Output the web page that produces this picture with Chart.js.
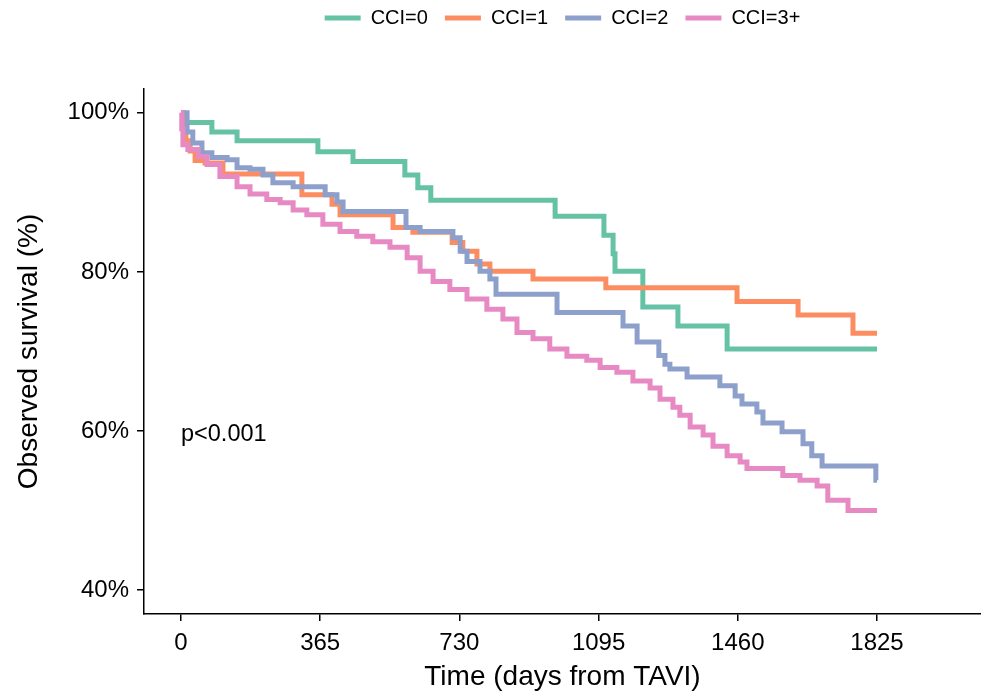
<!DOCTYPE html>
<html>
<head>
<meta charset="utf-8">
<script src="https://cdn.jsdelivr.net/npm/chart.js@4.4.1/dist/chart.umd.min.js"></script>
<style>
  html, body { margin: 0; padding: 0; background: #fff; }
  canvas { display: block; }
</style>
</head>
<body>
<canvas id="survChart" width="981" height="700"></canvas>
<script>
// Kaplan-Meier curves (days from TAVI, survival %)
const groups = ['CCI=0', 'CCI=1', 'CCI=2', 'CCI=3+'];
const colors = ['#66C2A5', '#FC8D62', '#8DA0CB', '#E78AC3'];

const days0 = [0, 5, 81, 147, 359, 451, 587, 621, 655, 981, 1109, 1133, 1138, 1211, 1303, 1432, 1825];
const surv0 = [100, 98.8, 97.6, 96.5, 95.1, 93.9, 92.2, 90.6, 89.0, 87.0, 84.6, 82.3, 80.1, 75.6, 73.2, 70.3, 70.3];

const days1 = [0, 5, 13, 24, 37, 63, 110, 317, 396, 417, 556, 608, 711, 739, 776, 810, 923, 1114, 1458, 1618, 1762, 1825];
const surv1 = [100, 98.0, 96.5, 95.2, 94.0, 93.7, 92.3, 89.7, 88.5, 87.2, 85.6, 85.0, 83.7, 82.6, 81.0, 80.1, 79.1, 78.0, 76.3, 74.6, 72.3, 72.3];

const days2 = [0, 16, 31, 55, 81, 121, 147, 181, 215, 241, 294, 378, 409, 425, 590, 627, 713, 732, 750, 784,
  810, 826, 986, 1159, 1196, 1253, 1269, 1282, 1327, 1413, 1453, 1471, 1510, 1526, 1576, 1631, 1654, 1681, 1822, 1825];
const surv2 = [100, 97.6, 96.2, 95.0, 94.4, 94.1, 93.1, 92.9, 92.2, 91.2, 90.7, 89.7, 88.8, 87.6, 85.6, 85.1, 84.3, 82.6, 81.3, 80.1,
  79.1, 77.2, 74.9, 73.2, 71.2, 69.5, 68.4, 67.8, 66.8, 65.7, 64.4, 63.4, 62.4, 61.0, 59.9, 58.4, 56.9, 55.6, 53.8, 53.8];

const days3 = [0, 2, 5, 18, 45, 68, 102, 147, 181, 225, 260, 294, 330, 372, 417, 461, 503, 548, 593, 627,
  661, 705, 750, 802, 844, 881, 923, 967, 1012, 1064, 1099, 1143, 1185, 1230, 1256, 1290, 1308, 1335, 1369, 1395,
  1432, 1466, 1484, 1578, 1623, 1668, 1696, 1749, 1825];
const surv3 = [100, 98.0, 96.0, 95.4, 94.5, 93.5, 92.0, 90.7, 89.8, 89.1, 88.7, 87.8, 87.2, 86.0, 85.1, 84.5, 83.8, 83.1, 81.8, 80.1,
  78.8, 77.8, 76.6, 75.3, 74.1, 72.4, 71.6, 70.3, 69.4, 68.9, 68.0, 67.4, 66.3, 65.4, 64.0, 63.0, 62.0, 60.5, 59.5, 58.1,
  56.9, 56.1, 55.3, 54.4, 53.8, 53.1, 51.3, 50.0, 50.0];

const xTicks = [0, 365, 730, 1095, 1460, 1825];
const yTicks = [40, 60, 80, 100];
const pText = 'p<0.001';
const pPos = { x: 0, y: 59.6 };

const allDays = [days0, days1, days2, days3];
const allSurv = [surv0, surv1, surv2, surv3];

const FONT = "'Liberation Sans', Arial, sans-serif";

const datasets = groups.map((g, i) => ({
  label: g,
  data: allDays[i].map((d, k) => ({ x: d, y: allSurv[i][k] })),
  borderColor: colors[i],
  backgroundColor: colors[i],
  borderWidth: 5,
  borderJoinStyle: 'miter',
  pointRadius: 0,
  stepped: 'before',        // hold the value, then drop at the next event
  fill: false,
  order: groups.length - i   // later groups drawn on top, like ggplot
}));

// make the legend box tall enough to push the plot panel down
const legendHeight = {
  id: 'legendHeight',
  beforeInit(chart) {
    const origFit = chart.legend.fit;
    chart.legend.fit = function () {
      origFit.call(this);
      this.height = 98;
    };
  }
};

const pValueLabel = {
  id: 'pValueLabel',
  afterDatasetsDraw(chart) {
    const { ctx, scales } = chart;
    ctx.save();
    ctx.font = '23.5px ' + FONT;
    ctx.fillStyle = '#000';
    ctx.textAlign = 'left';
    ctx.textBaseline = 'middle';
    ctx.fillText(pText, scales.x.getPixelForValue(pPos.x), scales.y.getPixelForValue(pPos.y));
    ctx.restore();
  }
};

new Chart(document.getElementById('survChart').getContext('2d'), {
  type: 'line',
  data: { datasets },
  options: {
    responsive: false,
    animation: false,
    devicePixelRatio: 1,
    layout: { padding: { top: -9, left: 0, right: 0, bottom: 0 } },
    plugins: {
      legend: {
        position: 'top',
        fullSize: false,
        labels: {
          boxWidth: 36,
          boxHeight: 5,
          padding: 17,
          color: '#000',
          font: { family: FONT, size: 20 },
          sort: (a, b) => a.datasetIndex - b.datasetIndex,
          generateLabels: (chart) =>
            Chart.defaults.plugins.legend.labels.generateLabels(chart).map(l => ({ ...l, lineWidth: 0 }))
        }
      },
      tooltip: { enabled: false }
    },
    scales: {
      x: {
        type: 'linear',
        min: -97,
        max: 2097.7,
        afterBuildTicks: (scale) => { scale.ticks = xTicks.map(v => ({ value: v })); },
        afterFit: (scale) => { scale.height = 86; },
        ticks: {
          autoSkip: false,
          maxRotation: 0,
          padding: 8,
          color: '#000',
          font: { family: FONT, size: 24 },
          callback: (v) => String(v)
        },
        grid: { drawOnChartArea: false, drawTicks: true, tickLength: 7, color: '#000', lineWidth: 1.5 },
        border: { display: true, color: '#000', width: 1.5 },
        title: {
          display: true,
          text: 'Time (days from TAVI)',
          color: '#000',
          font: { family: FONT, size: 28 },
          padding: { top: 0, bottom: 6 }
        }
      },
      y: {
        type: 'linear',
        min: 37,
        max: 103,
        afterBuildTicks: (scale) => { scale.ticks = yTicks.map(v => ({ value: v })); },
        afterFit: (scale) => { scale.width = 144; },
        ticks: {
          padding: 8,
          color: '#000',
          font: { family: FONT, size: 24 },
          callback: (v) => v + '%'
        },
        grid: { drawOnChartArea: false, drawTicks: true, tickLength: 7, color: '#000', lineWidth: 1.5 },
        border: { display: true, color: '#000', width: 1.5 },
        title: {
          display: true,
          text: 'Observed survival (%)',
          color: '#000',
          font: { family: FONT, size: 28 },
          padding: { top: 12, bottom: 0 }
        }
      }
    }
  },
  plugins: [legendHeight, pValueLabel]
});
</script>
</body>
</html>
